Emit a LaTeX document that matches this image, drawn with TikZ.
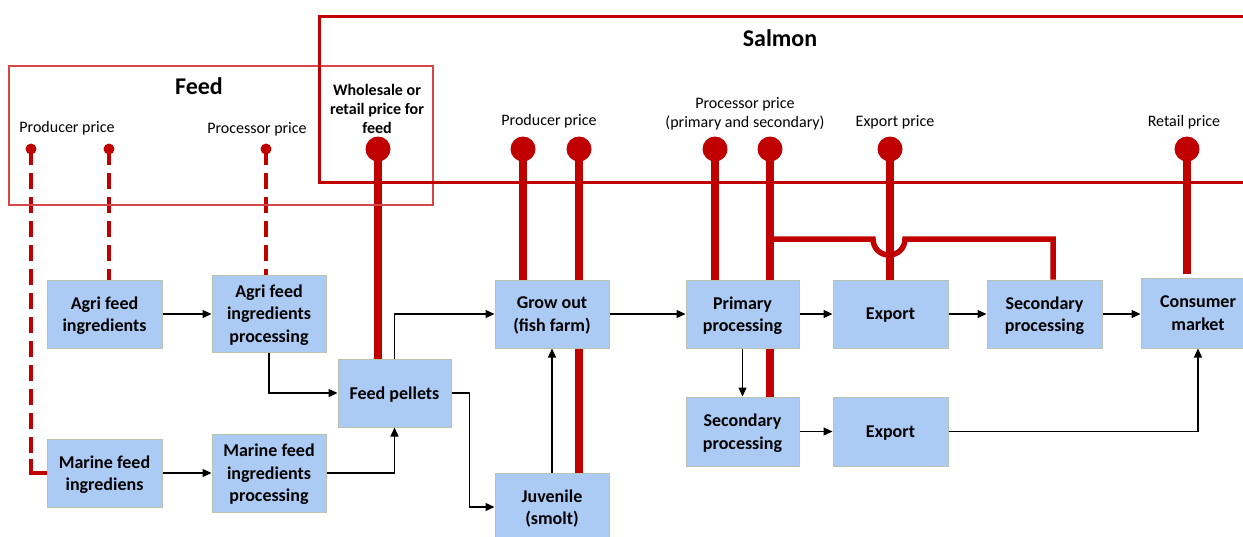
\documentclass[tikz,border=0pt]{standalone}
\usepackage{fontspec}
\setmainfont{Carlito}
\usetikzlibrary{arrows.meta,calc}

\definecolor{boxfill}{RGB}{171,203,245}
\definecolor{boxline}{RGB}{185,196,176}
\definecolor{salmonred}{RGB}{192,0,0}
\definecolor{feedred}{RGB}{214,70,72}

\pgfdeclarelayer{paper}
\pgfdeclarelayer{links}
\pgfsetlayers{paper,links,main}

\tikzset{
  stepbox/.style={draw=boxline, line width=1pt, fill=boxfill, align=center,
    minimum width=#1, minimum height=68pt, inner sep=0pt,
    font=\fontsize{18}{22.5}\selectfont\bfseries},
  stepbox/.default=114pt,
  flow/.style={line width=1.3pt, -{Triangle[length=9pt,width=8pt]}},
  pricelabel/.style={align=center, inner sep=0pt, font=\fontsize{16}{19.5}\selectfont},
  bigpin/.style={circle, fill=salmonred, minimum size=25pt, inner sep=0pt},
  smallpin/.style={circle, fill=salmonred, minimum size=11pt, inner sep=0pt},
  stem/.style={draw=salmonred, line width=7.5pt},
  branch/.style={draw=salmonred, line width=5.5pt},
  feedlink/.style={draw=salmonred, line width=3.5pt, dash pattern=on 16pt off 8pt},
  grouptitle/.style={inner sep=0pt, font=\fontsize{24}{28}\selectfont\bfseries},
}

\begin{document}
\begin{tikzpicture}[x=1pt, y=-1pt]
\useasboundingbox (0,0) rectangle (1243,536);
\clip (0,0) rectangle (1243,536);
\begin{pgfonlayer}{paper}
  \fill[white] (0,0) rectangle (1243,536);
\end{pgfonlayer}

% group frames
\draw[feedred, line width=1.5pt] (9,66) rectangle (433,205);
\draw[salmonred, line width=3pt] (319,16) rectangle (1270,182);
\node[grouptitle] (feedtitle) at (199,86) {Feed};
\node[grouptitle] (salmontitle) at (780,38) {Salmon};

% price labels
\node[pricelabel] (lfprod) at (67,128) {Producer price};
\node[pricelabel] (lfproc) at (257,129) {Processor price};
\node[pricelabel, font=\fontsize{16}{19}\selectfont\bfseries] (lwhole) at (377,109)
  {Wholesale or\\retail price for\\feed};
\node[pricelabel] (lsprod) at (549,121) {Producer price};
\node[pricelabel] (lsproc) at (745,114) {Processor price\\(primary and secondary)};
\node[pricelabel] (lexp) at (895,122) {Export price};
\node[pricelabel] (lret) at (1184,122) {Retail price};

% process steps
\begin{scope}[every node/.append style={text depth=0pt}]
\node[stepbox=115pt] (agri) at (104.5,314) {Agri feed\\ingredients};
\node[stepbox, minimum height=77pt] (agriproc) at (269,313.5) {Agri feed\\ingredients\\processing};
\node[stepbox=113pt] (pellets) at (394.5,393) {Feed pellets};
\node[stepbox=115pt] (marine) at (104.5,473) {Marine feed\\ingrediens};
\node[stepbox, minimum height=78pt] (marineproc) at (269,473) {Marine feed\\ingredients\\processing};
\node[stepbox] (grow) at (552,314) {Grow out\\(fish farm)};
\node[stepbox] (juvenile) at (552,507) {Juvenile\\(smolt)};
\node[stepbox=113pt] (primary) at (742.5,314) {Primary\\processing};
\node[stepbox=113pt, minimum height=69pt] (secondary) at (742.5,431.5) {Secondary\\processing};
\node[stepbox=115pt] (export) at (890.5,314) {Export};
\node[stepbox=115pt, minimum height=69pt] (exportb) at (890.5,431.5) {Export};
\node[stepbox=115pt] (secproc) at (1044.5,314) {Secondary\\processing};
\node[stepbox, minimum height=70pt] (consumer) at (1198,313) {Consumer\\market};
\end{scope}

% price pins
\node[smallpin] (fp1) at (31,149) {};
\node[smallpin] (fp2) at (109,149) {};
\node[smallpin] (fp3) at (266,149) {};
\node[bigpin] (wp) at (378,149) {};
\node[bigpin] (sp1) at (523,149) {};
\node[bigpin] (sp2) at (579,149) {};
\node[bigpin] (pp1) at (715,149) {};
\node[bigpin] (pp2) at (770,149) {};
\node[bigpin] (ep) at (890,149) {};
\node[bigpin] (rp) at (1187,149) {};

% branch from the processor price to the secondary processing abroad,
% dipping under the export price link
\coordinate (b0) at (770,239);
\coordinate (jumpL) at (873,239);
\coordinate (jumpB) at (889,255);
\coordinate (jumpR) at (905,239);
\coordinate (b1) at (1053,239);

% price links, behind the steps
\begin{pgfonlayer}{links}
  \draw[feedlink] (fp1.center) -- ($(fp1 |- marine.west)+(0,-12)$);
  \draw[feedlink, solid] ($(fp1 |- marine.west)+(0,-14)$) |- (marine.west);
  \draw[feedlink] (fp2.center) -- (fp2 |- agri.north);
  \draw[feedlink] (fp3.center) -- (fp3 |- agriproc.north);
  \draw[stem] (wp.center) -- (wp |- pellets.north);
  \draw[stem] (sp1.center) -- (sp1 |- grow.north);
  \draw[stem] (sp2.center) -- (sp2 |- juvenile.north);
  \draw[stem] (pp1.center) -- (pp1 |- primary.north);
  \draw[stem] (pp2.center) -- (pp2 |- secondary.north);
  \draw[branch] (b0) -- (jumpL)
    .. controls (873,248) and (880,255) .. (jumpB)
    .. controls (898,255) and (905,248) .. (jumpR)
    -- (b1) -- (b1 |- secproc.north);
  \draw[stem] (ep.center) -- (ep |- export.north);
  \draw[stem] (rp.center) -- ($(rp |- consumer.north)+(0,-4)$);
\end{pgfonlayer}

% material flow
\draw[flow] (agri.east) -- (agri.east -| agriproc.west);
\draw[flow] (agriproc.south) |- (pellets.west);
\draw[flow] (marine.east) -- (marine.east -| marineproc.west);
\draw[flow] (marineproc.east) -| (pellets.south);
\draw[flow] (pellets.north) |- (grow.west);
\draw[flow] (pellets.east) -- ++(18,0) |- (juvenile.west);
\draw[flow] (juvenile.north) -- (grow.south);
\draw[flow] (grow.east) -- (primary.west);
\draw[flow] (primary.east) -- (export.west);
\draw[flow] (primary.south) -- (secondary.north);
\draw[flow] (secondary.east) -- (exportb.west);
\draw[flow] (export.east) -- (secproc.west);
\draw[flow] (secproc.east) -- (secproc.east -| consumer.west);
\draw[flow] (exportb.east) -| (consumer.south);
\end{tikzpicture}
\end{document}
